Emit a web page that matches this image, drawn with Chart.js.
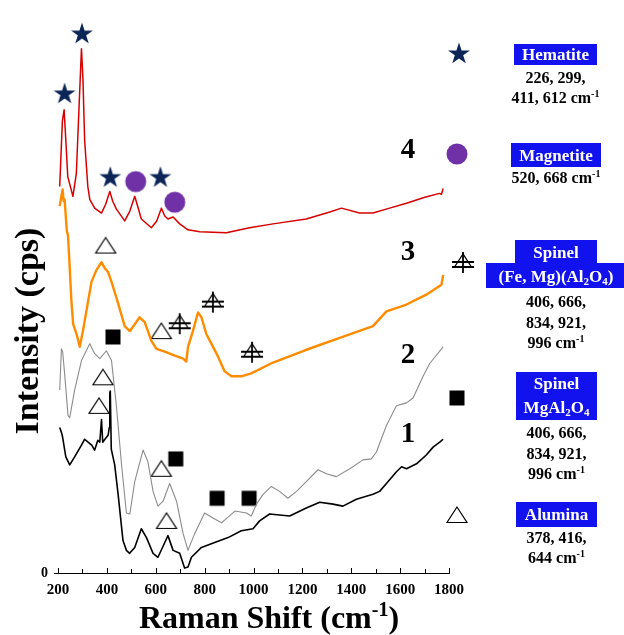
<!DOCTYPE html>
<html>
<head>
<meta charset="utf-8">
<script src="https://cdn.jsdelivr.net/npm/chart.js@4"></script>
<style>
  body { margin: 0; background: #fff; }
  #wrap { width: 624px; height: 635px; }
</style>
</head>
<body>
<div id="wrap"><canvas id="raman" width="624" height="635"></canvas></div>
<script>
// spectra: shift in cm-1, intensity in arb. units (traces are offset)
const shift1 = [207,214,219,232,248,268,296,309,323,338,350,363,371,378,383,395,405,410,412,414,418,432,446,466,480,493,514,541,562,589,609,637,650,671,698,718,732,746,787,841,896,950,998,1025,1066,1148,1216,1271,1325,1366,1421,1489,1516,1544,1585,1606,1626,1667,1707,1735,1762,1776];
const int1   = [148,143,138,118,110,118,130,136,133,130,125,135,133,156,133,137,140,148,183,185,126,110,80,33,23,20,26,45,36,20,16,31,38,23,20,5,6,16,26,31,36,43,45,53,60,58,66,72,70,68,75,80,83,91,103,108,106,111,120,128,133,136];

const shift2 = [207,214,219,227,241,248,268,296,330,350,371,398,419,439,460,480,494,514,548,568,589,609,630,657,685,712,732,759,800,834,869,924,971,991,1012,1039,1073,1107,1141,1176,1216,1264,1298,1339,1394,1448,1482,1503,1544,1585,1626,1653,1694,1721,1776];
const int2   = [186,228,225,203,160,158,186,216,233,223,218,226,216,170,110,61,60,93,125,113,83,68,73,91,73,40,23,40,61,56,51,63,61,58,70,80,88,83,76,83,93,105,101,98,106,115,116,123,150,170,173,178,200,213,230];

const shift3 = [207,215,219,223,227,236,241,248,255,262,276,289,302,323,337,357,378,391,405,419,439,459,473,494,514,534,555,568,582,603,637,678,712,725,732,752,773,787,807,828,855,882,910,950,991,1080,1216,1353,1489,1544,1626,1707,1769,1776];
const int3   = [373,385,390,378,380,348,343,310,276,253,243,230,246,276,296,308,316,310,306,296,280,263,251,246,253,260,255,246,236,228,225,221,218,215,230,246,265,260,243,233,220,205,200,200,203,214,227,239,251,266,273,283,293,303];

const shift4 = [207,218,225,232,240,261,275,286,296,302,309,322,330,350,378,395,412,424,439,473,494,514,526,541,582,604,623,637,650,671,698,732,780,889,984,1080,1216,1312,1360,1434,1489,1557,1626,1701,1762,1769,1776];
const int4   = [393,460,471,440,403,383,406,473,533,503,440,393,380,371,366,375,388,378,370,358,368,383,373,360,351,358,371,363,360,362,355,349,347,346,351,355,360,367,371,366,366,371,376,382,386,385,391];

// peak assignments marked on the traces
const hematiteX = [227, 298, 414, 619];
const hematiteY = [487, 548, 402, 402];
const magnetiteX = [518, 678];
const magnetiteY = [398, 377];
const feSpinelX = [698, 834, 994];
const feSpinelY = [254, 276, 225];
const mgSpinelX = [425, 682, 851, 982];
const mgSpinelY = [240, 116, 76, 76];
const aluminaX = [395, 623, 384, 368, 623, 644];
const aluminaY = [333, 246, 199, 170, 106, 53];

// trace numbers
const traceNames = ['1', '2', '3', '4'];
const traceLabelX = [1632, 1632, 1632, 1632];
const traceLabelY = [141, 221, 326, 430];

const xTicksMin = 200, xTicksMax = 1800;

const SERIF = "'Liberation Serif', 'Times New Roman', serif";

function pts(xs, ys) {
  return xs.map((x, i) => ({ x: x, y: ys[i] }));
}

function makeMarker(kind) {
  const c = document.createElement('canvas');
  c.width = 28; c.height = 28;
  const g = c.getContext('2d');
  const m = 14;
  if (kind === 'star') {
    g.fillStyle = '#0c2557';
    g.beginPath();
    for (let i = 0; i < 10; i++) {
      const r = i % 2 ? 4.4 : 11.5;
      const a = -Math.PI / 2 + i * Math.PI / 5;
      g.lineTo(m + r * Math.cos(a), m + r * Math.sin(a));
    }
    g.closePath();
    g.fill();
  } else if (kind === 'circle') {
    g.fillStyle = '#7131a6';
    g.beginPath();
    g.arc(m, m, 10.5, 0, Math.PI * 2);
    g.fill();
  } else if (kind === 'square') {
    g.fillStyle = '#000';
    g.fillRect(m - 7.5, m - 7.5, 15, 15);
  } else if (kind === 'triangle') {
    g.fillStyle = '#fff';
    g.strokeStyle = '#000';
    g.lineWidth = 1.2;
    g.beginPath();
    g.moveTo(m, m - 8);
    g.lineTo(m - 10, m + 7.5);
    g.lineTo(m + 10, m + 7.5);
    g.closePath();
    g.fill();
    g.stroke();
  } else if (kind === 'crossTri') {
    g.strokeStyle = '#000';
    g.lineWidth = 1.3;
    g.beginPath();
    g.moveTo(m, m - 8);
    g.lineTo(m - 8.5, m + 5);
    g.lineTo(m + 8.5, m + 5);
    g.closePath();
    g.stroke();
    g.lineWidth = 1.8;
    g.beginPath();
    g.moveTo(m - 11, m + 5); g.lineTo(m + 11, m + 5);
    g.moveTo(m - 11, m); g.lineTo(m + 11, m);
    g.moveTo(m, m - 10); g.lineTo(m, m + 11);
    g.stroke();
  }
  return c;
}

const markers = {
  star: makeMarker('star'),
  circle: makeMarker('circle'),
  square: makeMarker('square'),
  triangle: makeMarker('triangle'),
  crossTri: makeMarker('crossTri')
};

function trace(data, color, width) {
  return {
    data: data,
    borderColor: color,
    borderWidth: width,
    borderJoinStyle: 'round',
    pointRadius: 0,
    tension: 0,
    fill: false
  };
}

function markerSet(data, img) {
  return {
    data: data,
    showLine: false,
    pointStyle: img,
    pointRadius: 10,
    borderWidth: 0,
    clip: false
  };
}

// rich text: ^{..} superscript, _{..} subscript
function richParts(str) {
  const parts = [];
  const re = /([\^_])\{([^}]*)\}/g;
  let last = 0, m;
  while ((m = re.exec(str))) {
    if (m.index > last) parts.push({ t: str.slice(last, m.index), k: '' });
    parts.push({ t: m[2], k: m[1] });
    last = re.lastIndex;
  }
  if (last < str.length) parts.push({ t: str.slice(last), k: '' });
  return parts;
}

function drawRich(ctx, str, cx, y, size, color) {
  const parts = richParts(str);
  const small = Math.round(size * 0.62);
  let w = 0;
  parts.forEach(p => {
    ctx.font = 'bold ' + (p.k ? small : size) + 'px ' + SERIF;
    p.w = ctx.measureText(p.t).width;
    w += p.w;
  });
  let x = cx - w / 2;
  ctx.fillStyle = color;
  ctx.textAlign = 'left';
  ctx.textBaseline = 'alphabetic';
  parts.forEach(p => {
    ctx.font = 'bold ' + (p.k ? small : size) + 'px ' + SERIF;
    let dy = 0;
    if (p.k === '^') dy = -size * 0.38;
    if (p.k === '_') dy = size * 0.2;
    ctx.fillText(p.t, x, y + dy);
    x += p.w;
  });
}

// legend column on the right (pixel layout)
const legendBlue = '#1212ee';
const legendEntries = [
  { marker: 'star', mx: 459, my: 54,
    boxes: [[514, 44, 83, 21]], heads: [['Hematite', 60]],
    lines: [['226, 299,', 83], ['411, 612 cm^{-1}', 103]] },
  { marker: 'circle', mx: 457, my: 154,
    boxes: [[511, 143, 90, 24]], heads: [['Magnetite', 161]],
    lines: [['520, 668 cm^{-1}', 183]] },
  { marker: 'crossTri', mx: 463, my: 262,
    boxes: [[515, 240, 82, 24], [486, 263, 138, 25]], heads: [['Spinel', 258], ['(Fe, Mg)(Al_{2}O_{4})', 282]],
    lines: [['406, 666,', 307], ['834, 921,', 328], ['996 cm^{-1}', 348]] },
  { marker: 'square', mx: 457, my: 398,
    boxes: [[516, 372, 81, 48]], heads: [['Spinel', 389], ['MgAl_{2}O_{4}', 413]],
    lines: [['406, 666,', 438], ['834, 921,', 459], ['996 cm^{-1}', 479]] },
  { marker: 'triangle', mx: 457, my: 515,
    boxes: [[516, 502, 81, 25]], heads: [['Alumina', 520]],
    lines: [['378, 416,', 543], ['644 cm^{-1}', 563]] }
];

const decorations = {
  id: 'decorations',
  afterDraw(chart) {
    const ctx = chart.ctx;
    const xs = chart.scales.x, ys = chart.scales.y;
    const area = chart.chartArea;
    ctx.save();

    // inward tick marks on the x axis
    ctx.strokeStyle = '#000';
    ctx.lineWidth = 1;
    ctx.beginPath();
    xs.ticks.forEach(t => {
      const px = Math.round(xs.getPixelForValue(t.value)) + 0.5;
      const len = t.value % 200 === 0 ? 5 : 4;
      ctx.moveTo(px, area.bottom);
      ctx.lineTo(px, area.bottom - len);
    });
    ctx.stroke();

    // trace numbers
    ctx.fillStyle = '#000';
    ctx.font = 'bold 29px ' + SERIF;
    ctx.textAlign = 'center';
    ctx.textBaseline = 'middle';
    traceNames.forEach((n, i) => {
      ctx.fillText(n, xs.getPixelForValue(traceLabelX[i]), ys.getPixelForValue(traceLabelY[i]));
    });

    // axis titles
    drawRich(ctx, 'Raman Shift (cm^{-1})', 269, 628, 32, '#000');
    ctx.save();
    ctx.translate(38, 331);
    ctx.rotate(-Math.PI / 2);
    drawRich(ctx, 'Intensity (cps)', 0, 0, 34, '#000');
    ctx.restore();

    // legend
    legendEntries.forEach(e => {
      const img = markers[e.marker];
      ctx.drawImage(img, e.mx - img.width / 2, e.my - img.height / 2);
      ctx.fillStyle = legendBlue;
      e.boxes.forEach(b => ctx.fillRect(b[0], b[1], b[2], b[3]));
      const cx = e.boxes[0][0] + e.boxes[0][2] / 2;
      e.heads.forEach(h => drawRich(ctx, h[0], cx, h[1], 17, '#fff'));
      e.lines.forEach(l => drawRich(ctx, l[0], cx, l[1], 16, '#000'));
    });
    ctx.restore();
  }
};

new Chart(document.getElementById('raman'), {
  type: 'line',
  data: {
    datasets: [
      trace(pts(shift1, int1), '#000000', 1.6),
      trace(pts(shift2, int2), '#8c8c8c', 1.1),
      trace(pts(shift3, int3), '#ff8c00', 2.4),
      trace(pts(shift4, int4), '#d60000', 1.5),
      markerSet(pts(hematiteX, hematiteY), markers.star),
      markerSet(pts(magnetiteX, magnetiteY), markers.circle),
      markerSet(pts(feSpinelX, feSpinelY), markers.crossTri),
      markerSet(pts(mgSpinelX, mgSpinelY), markers.square),
      markerSet(pts(aluminaX, aluminaY), markers.triangle)
    ]
  },
  options: {
    responsive: false,
    animation: false,
    events: [],
    layout: { padding: { left: 0, right: 175, top: 5, bottom: 0 } },
    plugins: { legend: { display: false }, tooltip: { enabled: false } },
    scales: {
      x: {
        type: 'linear',
        min: xTicksMin,
        max: xTicksMax,
        afterFit: s => { s.height = 62; },
        border: { display: true, color: '#000', width: 1 },
        grid: { display: false, drawTicks: false },
        ticks: {
          stepSize: 100,
          padding: 8,
          maxRotation: 0,
          autoSkip: false,
          color: '#000',
          font: { family: SERIF, size: 15, weight: 'bold' },
          callback: v => (v % 200 === 0 ? String(v) : '')
        }
      },
      y: {
        type: 'linear',
        min: 0,
        max: 568,
        afterFit: s => { s.width = 58; },
        afterBuildTicks: s => { s.ticks = [{ value: 0 }]; },
        border: { display: false },
        grid: { display: true, drawOnChartArea: false, drawTicks: true, tickLength: 4, color: '#000' },
        ticks: {
          padding: 6,
          color: '#000',
          font: { family: SERIF, size: 14, weight: 'bold' },
          callback: v => String(v)
        }
      }
    }
  },
  plugins: [decorations]
});
</script>
</body>
</html>
